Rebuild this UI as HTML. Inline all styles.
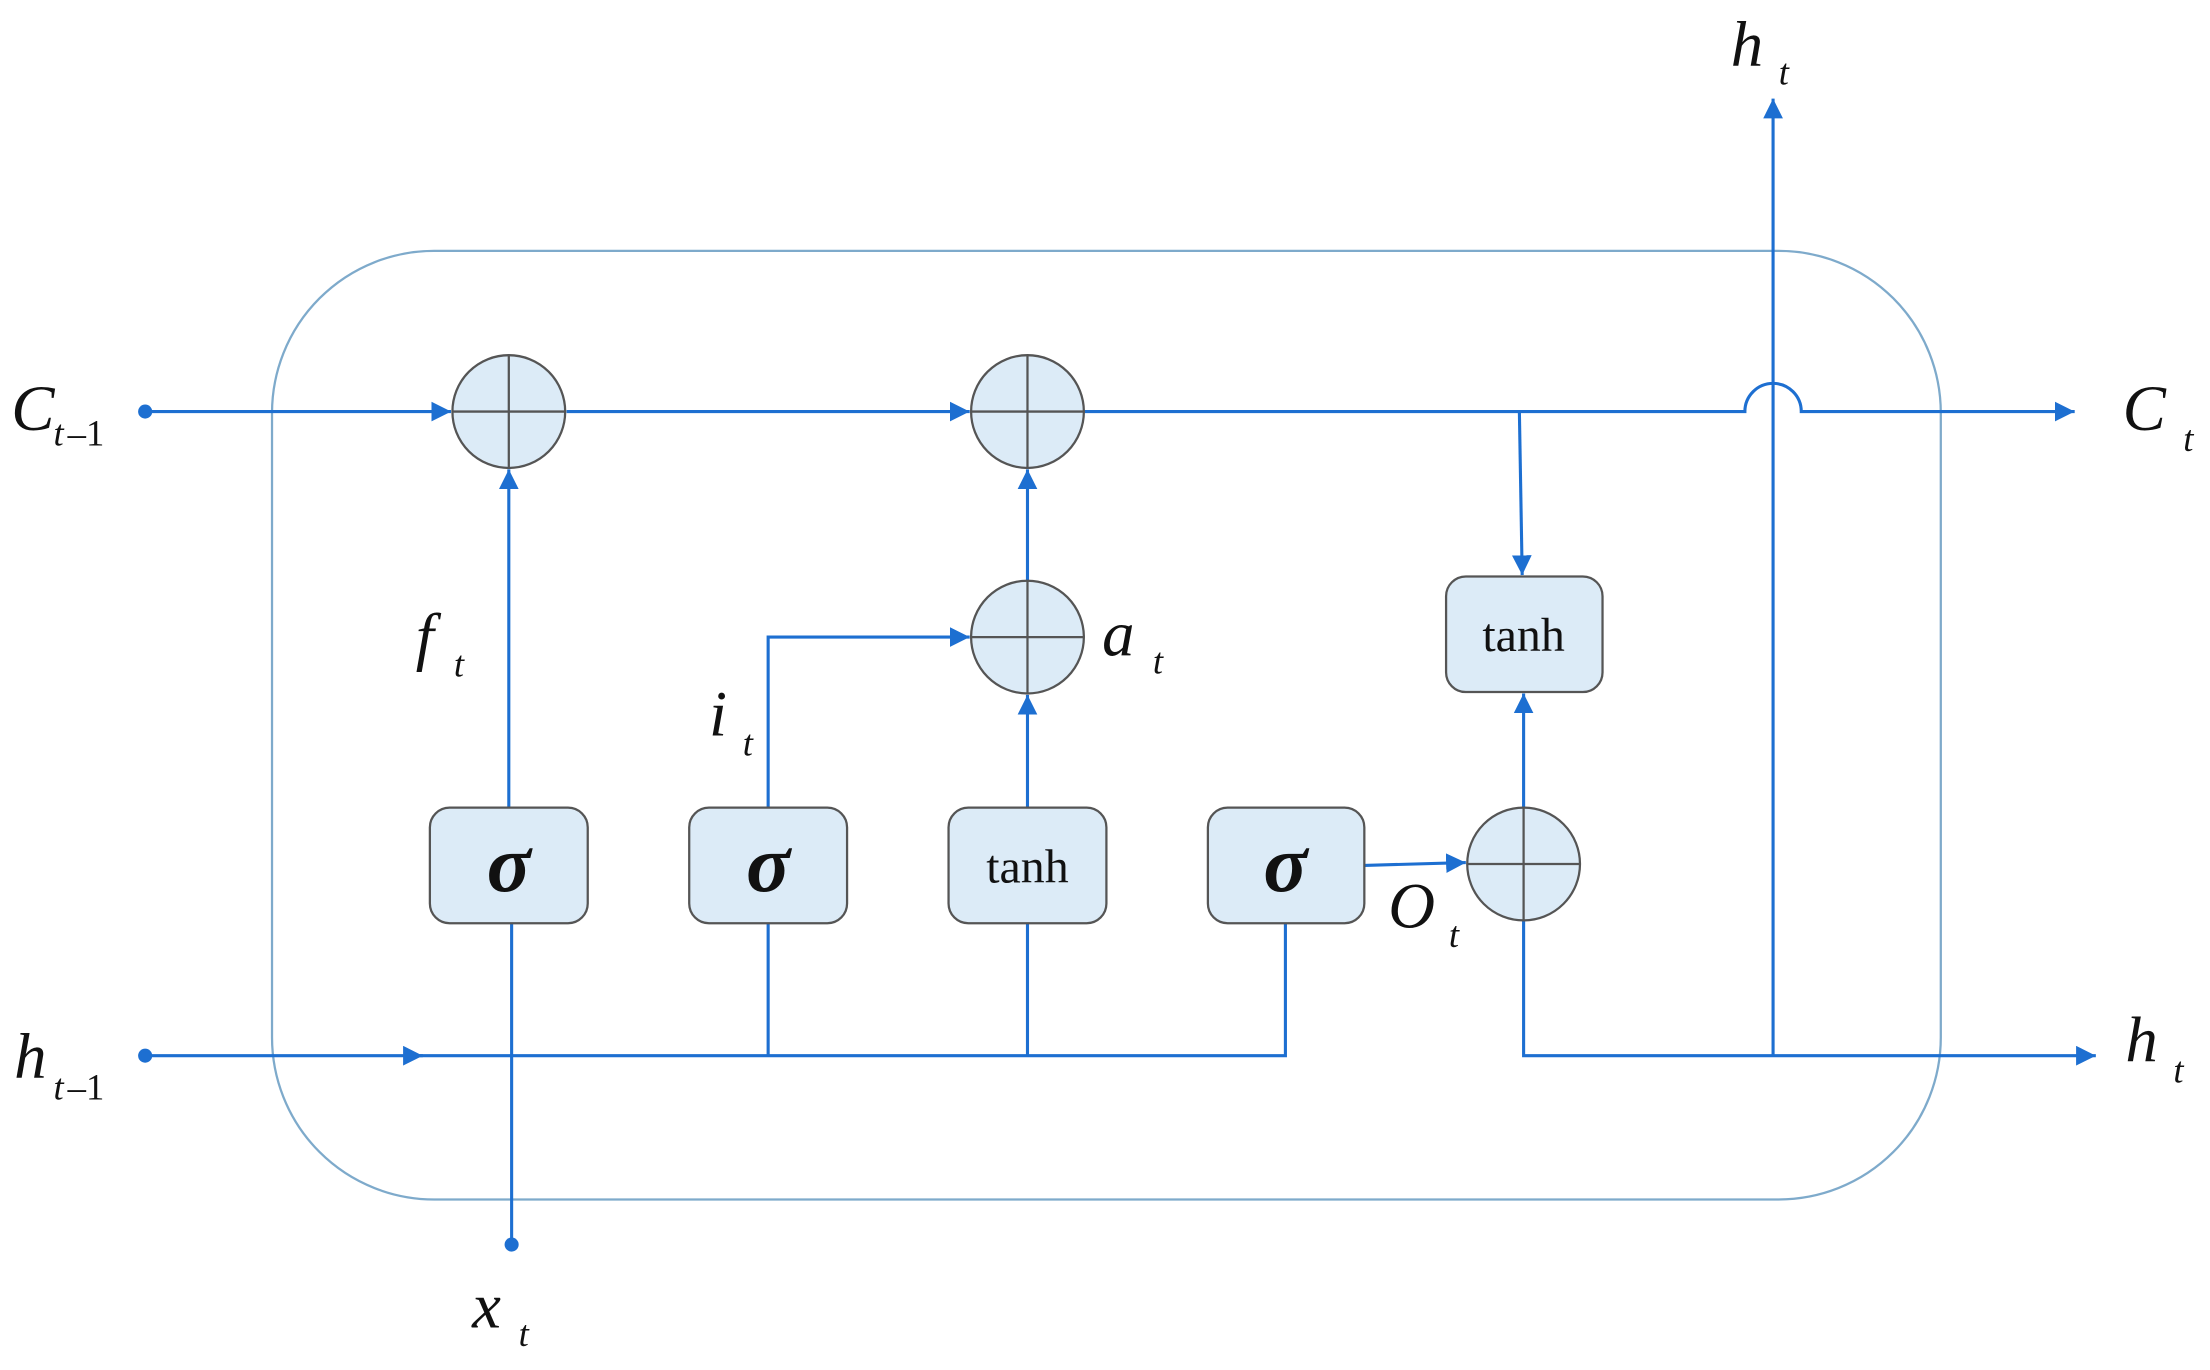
<!DOCTYPE html>
<html><head><meta charset="utf-8"><style>html,body{margin:0;padding:0;background:#fff}svg{display:block}</style></head>
<body>
<svg width="2210" height="1370" viewBox="0 0 1568 972" preserveAspectRatio="none" xmlns="http://www.w3.org/2000/svg">
<defs>
<marker id="a" viewBox="0 0 10 10" refX="10" refY="5" markerWidth="14" markerHeight="14" markerUnits="userSpaceOnUse" orient="auto"><path d="M0,0 L10,5 L0,10 z" fill="#1d6fd1"/></marker>
</defs>
<rect x="193" y="178" width="1184" height="673" rx="115" ry="115" fill="none" stroke="#7eaacb" stroke-width="1.6"/>
<g stroke="#1d6fd1" stroke-width="2.2" fill="none">
<path d="M103,292 H320" marker-end="url(#a)"/>
<path d="M402,292 H688" marker-end="url(#a)"/>
<path d="M769,292 H1238 A20,20 0 0 1 1278,292 H1472" marker-end="url(#a)"/>
<path d="M1078,292 L1080,408" marker-end="url(#a)"/>
<path d="M361,573 V333" marker-end="url(#a)"/>
<path d="M363,883 V655"/>
<path d="M545,573 V452 H688" marker-end="url(#a)"/>
<path d="M729,573 V493" marker-end="url(#a)"/>
<path d="M729,412 V333" marker-end="url(#a)"/>
<path d="M968,614 L1040,612" marker-end="url(#a)"/>
<path d="M1081,573 V492" marker-end="url(#a)"/>
<path d="M1081,653 V749 H1487" marker-end="url(#a)"/>
<path d="M1258,749 V70" marker-end="url(#a)"/>
<path d="M103,749 H300" marker-end="url(#a)"/>
<path d="M298,749 H912 V655"/>
<path d="M545,655 V749 M729,655 V749"/>
</g>
<circle cx="103" cy="292" r="5" fill="#1d6fd1"/>
<circle cx="103" cy="749" r="5" fill="#1d6fd1"/>
<circle cx="363" cy="883" r="5" fill="#1d6fd1"/>
<g fill="#dcebf7" stroke="#555" stroke-width="1.6">
<ellipse cx="361" cy="292" rx="40" ry="40"/>
<ellipse cx="729" cy="292" rx="40" ry="40"/>
<ellipse cx="729" cy="452" rx="40" ry="40"/>
<ellipse cx="1081" cy="613" rx="40" ry="40"/>
<rect x="305" y="573" width="112" height="82" rx="14"/>
<rect x="489" y="573" width="112" height="82" rx="14"/>
<rect x="673" y="573" width="112" height="82" rx="14"/>
<rect x="857" y="573" width="111" height="82" rx="14"/>
<rect x="1026" y="409" width="111" height="82" rx="14"/>
</g>
<g stroke="#555" stroke-width="1.6">
<path d="M321,292 H401 M361,252 V332"/>
<path d="M689,292 H769 M729,252 V332"/>
<path d="M689,452 H769 M729,412 V492"/>
<path d="M1041,613 H1121 M1081,573 V653"/>
</g>
<g font-family="Liberation Serif, serif" fill="#111">
<g font-style="italic" font-weight="bold" font-size="58" text-anchor="middle">
<text x="361" y="632">σ</text><text x="545" y="632">σ</text><text x="912" y="632">σ</text>
</g>
<g font-size="34" text-anchor="middle">
<text x="729" y="626">tanh</text><text x="1081" y="462">tanh</text>
</g>
<g font-style="italic" font-size="46">
<text x="8" y="305">C</text><text x="38" y="316" font-size="26">t</text><text x="48" y="316" font-size="26" font-style="normal">–1</text>
<text x="1506" y="305">C</text><text x="1549" y="320" font-size="26">t</text>
<text x="1228" y="47">h</text><text x="1262" y="60" font-size="26">t</text>
<text x="10" y="765">h</text><text x="38" y="780" font-size="26">t</text><text x="48" y="780" font-size="26" font-style="normal">–1</text>
<text x="1508" y="753">h</text><text x="1542" y="768" font-size="26">t</text>
<text x="335" y="942">x</text><text x="368" y="955" font-size="26">t</text>
<text x="295" y="467">f</text><text x="322" y="480" font-size="26">t</text>
<text x="503" y="522">i</text><text x="527" y="536" font-size="26">t</text>
<text x="782" y="465">a</text><text x="818" y="478" font-size="26">t</text>
<text x="985" y="658">O</text><text x="1028" y="672" font-size="26">t</text>
</g>
</g>
</svg>
</body></html>
